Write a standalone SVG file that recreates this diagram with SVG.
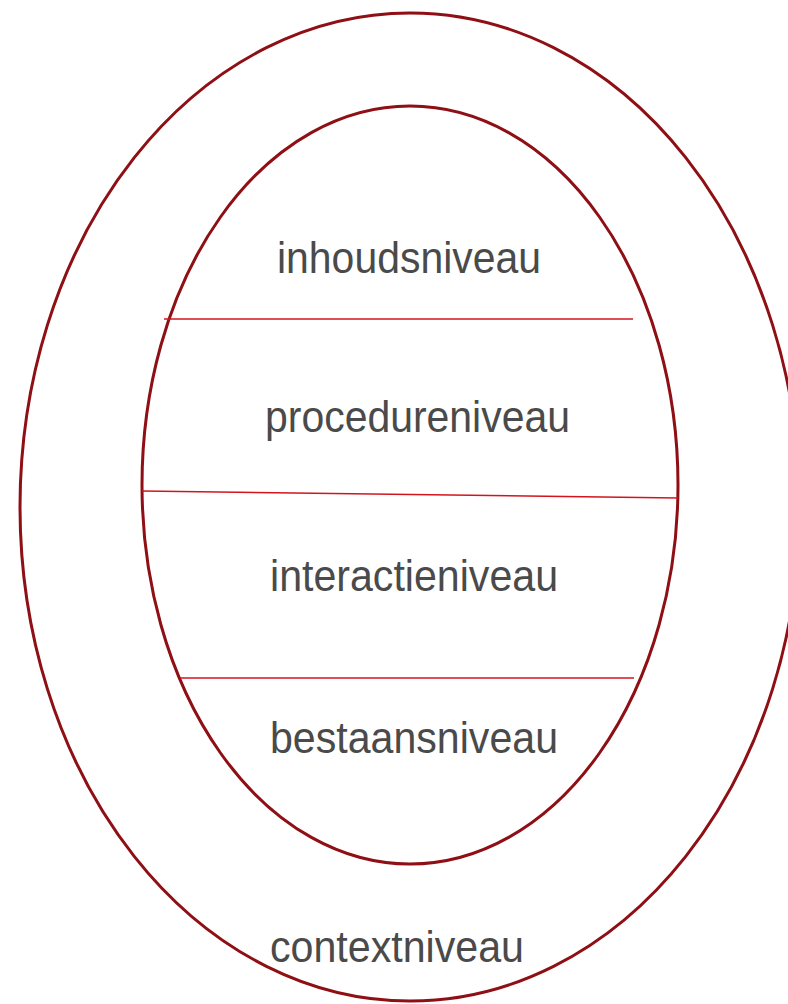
<svg xmlns="http://www.w3.org/2000/svg" width="788" height="1004" viewBox="0 0 788 1004">
<style>
.ring{fill:none;stroke:#8e0f14;stroke-width:3}
.div{stroke:#d2151c;stroke-width:1.6;fill:none}
.lbl{font-family:"Liberation Sans",Arial,sans-serif;font-size:45px;fill:#4a4a4a}
</style>
<rect width="788" height="1004" fill="#ffffff"/>
<g id="outer">
<ellipse class="ring" cx="410" cy="507" rx="390" ry="494"/>
<text class="lbl" x="270" y="962" textLength="254" lengthAdjust="spacingAndGlyphs">contextniveau</text>
</g>
<g id="inner">
<ellipse class="ring" cx="410" cy="485" rx="268" ry="379"/>
</g>
<g id="connectors">
<line class="div" x1="164" y1="319" x2="633" y2="319"/>
<line class="div" x1="142" y1="491" x2="678" y2="498"/>
<line class="div" x1="180" y1="678" x2="634" y2="678"/>
</g>
<g id="inhoud"><text class="lbl" x="277" y="273" textLength="264" lengthAdjust="spacingAndGlyphs">inhoudsniveau</text></g>
<g id="procedure"><text class="lbl" x="265" y="432" textLength="305" lengthAdjust="spacingAndGlyphs">procedureniveau</text></g>
<g id="interactie"><text class="lbl" x="270" y="591" textLength="288" lengthAdjust="spacingAndGlyphs">interactieniveau</text></g>
<g id="bestaan"><text class="lbl" x="270" y="753" textLength="288" lengthAdjust="spacingAndGlyphs">bestaansniveau</text></g>
</svg>
